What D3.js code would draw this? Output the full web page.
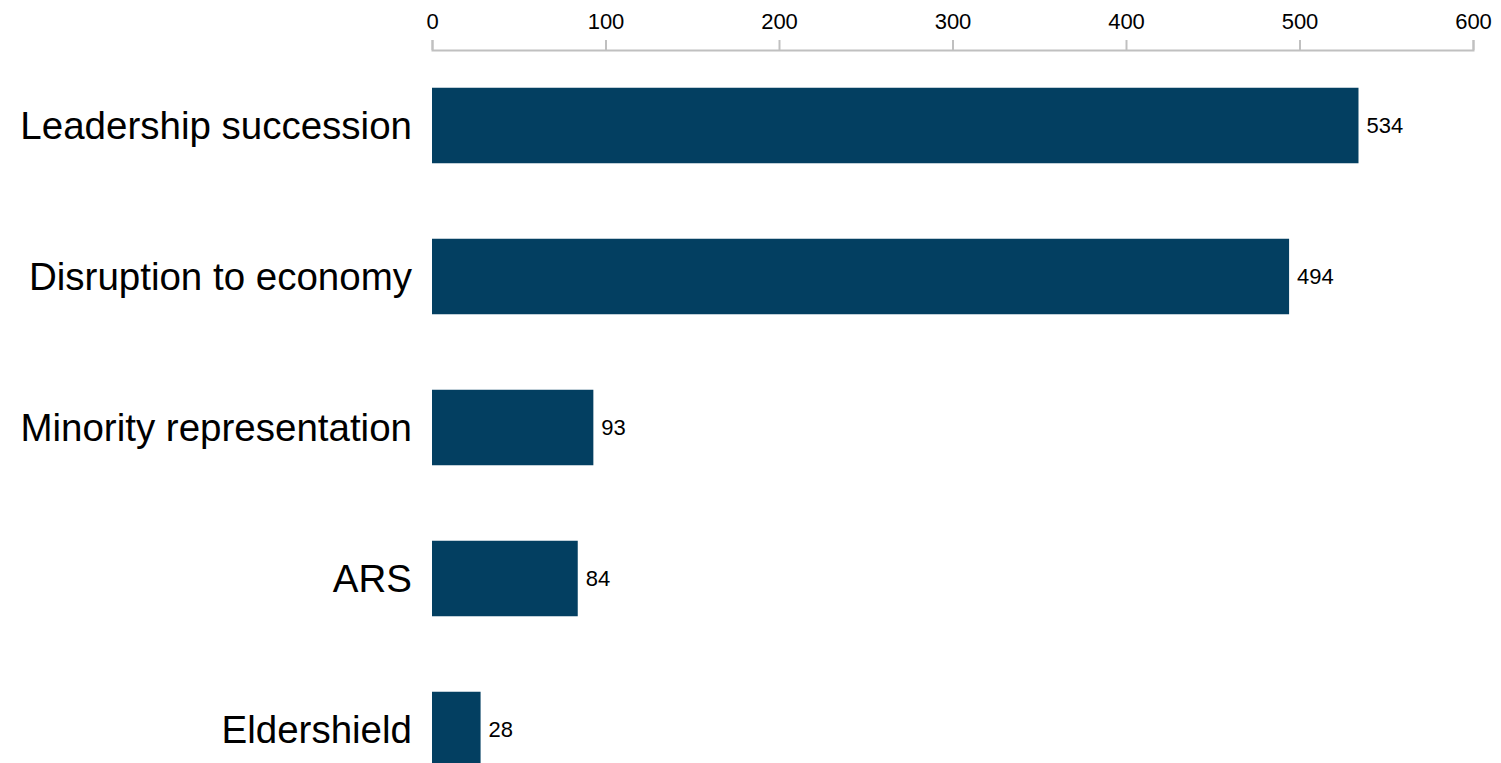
<!DOCTYPE html>
<html>
<head>
<meta charset="utf-8">
<script src="https://cdn.jsdelivr.net/npm/d3@7"></script>
<style>
  body { margin: 0; background: #fff; }
  svg { display: block; font-family: "Liberation Sans", Arial, sans-serif; }
  .axis path, .axis line { stroke: #c0c0c0; stroke-width: 2; }
  .axis text { font-size: 22px; fill: #000; }
</style>
</head>
<body>
<script>
const width = 1501, height = 763;

// data
const categories = ['Leadership succession', 'Disruption to economy', 'Minority representation', 'ARS', 'Eldershield'];
const counts = [534, 494, 93, 84, 28];
const xTicks = [0, 100, 200, 300, 400, 500, 600];

const barColor = '#033f61';

const data = categories.map((c, i) => ({ name: c, value: counts[i] }));

const svg = d3.select('body').append('svg')
    .attr('width', width)
    .attr('height', height);

// scales
const x = d3.scaleLinear()
    .domain([0, 600])
    .range([432, 1473]);

const y = d3.scaleBand()
    .domain(categories)
    .range([50, 805])
    .paddingInner(0.5)
    .paddingOuter(0.25);

// top axis
svg.append('g')
    .attr('class', 'axis')
    .attr('transform', 'translate(0,50)')
    .call(d3.axisTop(x)
      .tickValues(xTicks)
      .tickSize(10)
      .tickSizeOuter(10)
      .tickPadding(11));

// bars
svg.selectAll('.bar')
    .data(data)
    .enter()
  .append('rect')
    .attr('class', 'bar')
    .attr('x', x(0))
    .attr('y', d => y(d.name))
    .attr('width', d => x(d.value) - x(0))
    .attr('height', y.bandwidth())
    .attr('fill', barColor);

// value labels
svg.selectAll('.value')
    .data(data)
    .enter()
  .append('text')
    .attr('class', 'value')
    .attr('x', d => x(d.value) + 8)
    .attr('y', d => y(d.name) + y.bandwidth() / 2)
    .attr('dy', '0.36em')
    .style('font-size', '22px')
    .text(d => d.value);

// category labels
svg.selectAll('.cat')
    .data(data)
    .enter()
  .append('text')
    .attr('class', 'cat')
    .attr('x', 412)
    .attr('y', d => y(d.name) + y.bandwidth() / 2)
    .attr('dy', '0.36em')
    .attr('text-anchor', 'end')
    .style('font-size', '38.5px')
    .text(d => d.name);
</script>
</body>
</html>
